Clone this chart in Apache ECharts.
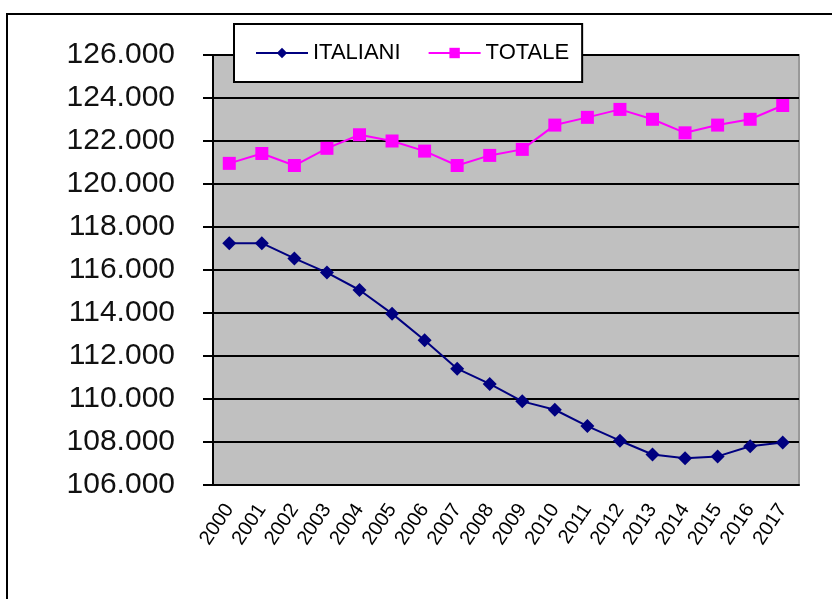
<!DOCTYPE html>
<html>
<head>
<meta charset="utf-8">
<script src="https://cdn.jsdelivr.net/npm/echarts@6/dist/echarts.min.js"></script>
<style>
  html, body { margin: 0; padding: 0; background: #fff; }
  #chart { width: 832px; height: 599px; }
</style>
</head>
<body>
<div id="chart"></div>
<script>
var anni = ['2000', '2001', '2002', '2003', '2004', '2005', '2006', '2007', '2008',
    '2009', '2010', '2011', '2012', '2013', '2014', '2015', '2016', '2017'];
var italiani = [117250, 117250, 116540, 115880, 115070, 113970, 112730, 111410, 110700,
    109890, 109500, 108740, 108060, 107420, 107240, 107330, 107800, 107980];
var totale = [120960, 121420, 120860, 121660, 122290, 122000, 121530, 120860, 121330,
    121610, 122740, 123100, 123470, 123010, 122380, 122740, 123010, 123650];

function puntini(v) {
    return String(v).replace(/\B(?=(\d{3})+(?!\d))/g, '.');
}

var myChart = echarts.init(document.getElementById('chart'));
var option = {
    animation: false,
    textStyle: { fontFamily: 'Liberation Sans, Arial, sans-serif' },
    graphic: [
        {
            type: 'rect',
            shape: { x: 7, y: 14, width: 900, height: 700 },
            style: { fill: 'none', stroke: '#000', lineWidth: 2 },
            z: -1
        }
    ],
    legend: {
        left: 234,
        top: 24,
        padding: [18, 13, 18, 21],
        itemWidth: 52,
        itemHeight: 13,
        itemGap: 27,
        backgroundColor: '#fff',
        borderColor: '#000',
        borderWidth: 2,
        textStyle: { fontSize: 22, color: '#000' },
        data: ['ITALIANI', 'TOTALE']
    },
    grid: {
        left: 213,
        right: 33,
        top: 55,
        bottom: 114,
        show: true,
        backgroundColor: '#C0C0C0',
        borderColor: '#999',
        borderWidth: 2
    },
    xAxis: {
        type: 'category',
        data: anni,
        boundaryGap: true,
        axisLine: { lineStyle: { color: '#000', width: 2 } },
        axisTick: { length: 7, lineStyle: { color: '#000', width: 2 } },
        axisLabel: { rotate: 56, fontSize: 20, color: '#000', margin: 21 }
    },
    yAxis: {
        type: 'value',
        min: 106000,
        max: 126000,
        interval: 2000,
        axisLine: { show: true, lineStyle: { color: '#000', width: 2 } },
        axisTick: { show: true, length: 10, lineStyle: { color: '#000', width: 2 } },
        splitLine: { lineStyle: { color: '#000', width: 2 } },
        axisLabel: {
            fontSize: 30,
            color: '#111',
            margin: 38,
            formatter: puntini
        }
    },
    series: [
        {
            name: 'ITALIANI',
            type: 'line',
            data: italiani,
            symbol: 'diamond',
            symbolSize: 14,
            itemStyle: { color: '#000080' },
            lineStyle: { color: '#000080', width: 2 }
        },
        {
            name: 'TOTALE',
            type: 'line',
            data: totale,
            symbol: 'rect',
            symbolSize: 13,
            itemStyle: { color: '#FF00FF' },
            lineStyle: { color: '#FF00FF', width: 2 }
        }
    ]
};
myChart.setOption(option);
</script>
</body>
</html>
